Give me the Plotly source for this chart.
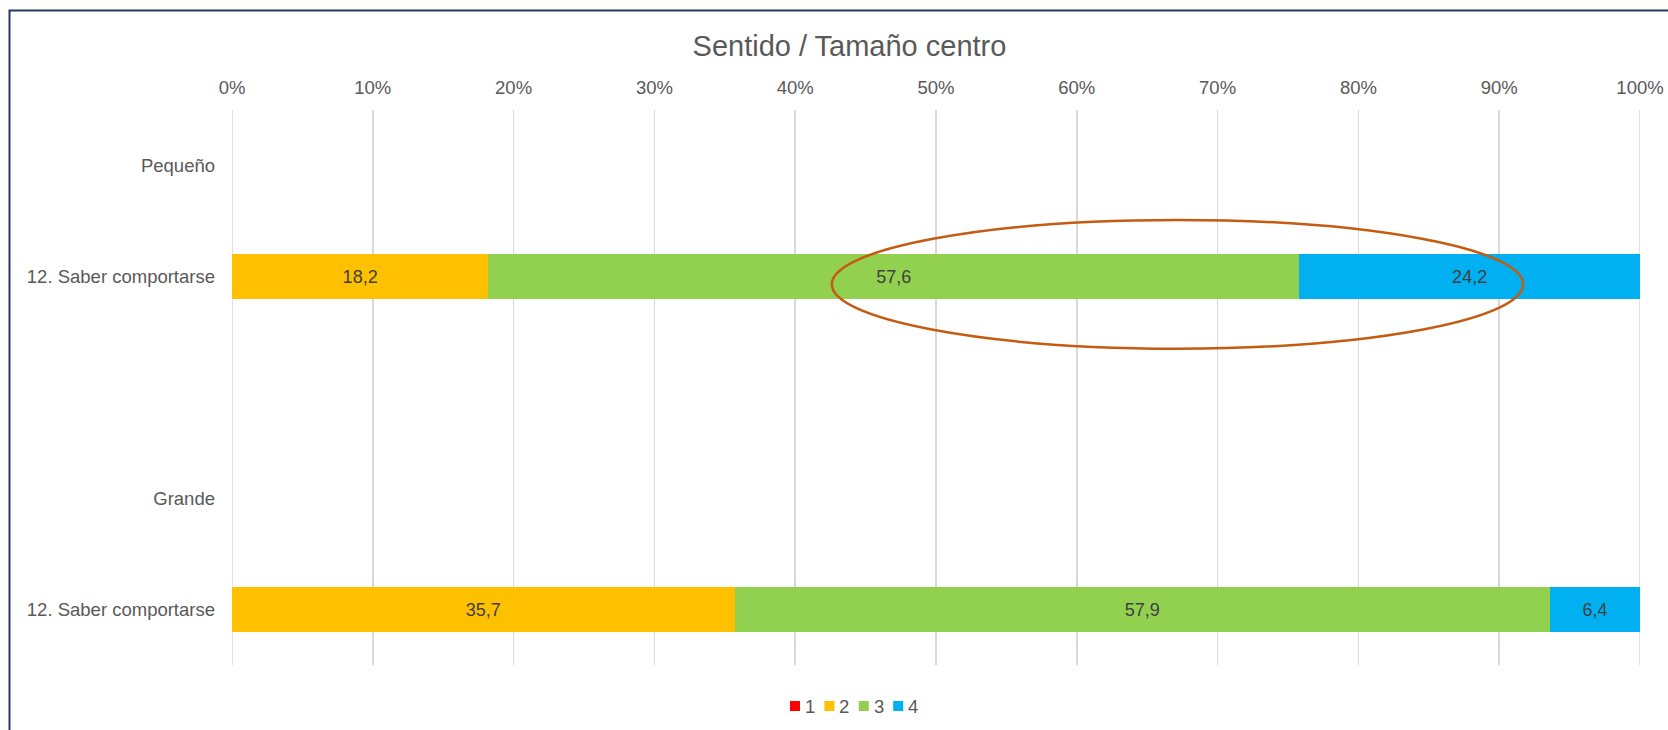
import plotly.graph_objects as go

categories = ["Pequeño", "12. Saber comportarse", "", "Grande", "12. Saber comportarse"]
series_names = ["1", "2", "3", "4"]
s1 = [None, 0.0, None, None, 0.0]
s2 = [None, 18.2, None, None, 35.7]
s3 = [None, 57.6, None, None, 57.9]
s4 = [None, 24.2, None, None, 6.4]
colors = ["#FF0000", "#FFC000", "#92D050", "#00B0F0"]
x_ticks = [0, 10, 20, 30, 40, 50, 60, 70, 80, 90, 100]
x_ticktext = [f"{v}%" for v in x_ticks]

ypos = list(range(len(categories)))
FONT = "Liberation Sans, Arial, sans-serif"
GRID = "#D9D9D9"

# plot-area geometry in pixels (for paper conversions of decorations)
L, R, T, B, W, H = 232, 1640, 110, 665, 1668, 730
def px(xp):
    return (xp - L) / (R - L)
def py(yp):
    return (B - yp) / (B - T)

fig = go.Figure()
for name, vals, col in zip(series_names, [s1, s2, s3, s4], colors):
    texts = [None if (v is None or v == 0) else v for v in vals]
    fig.add_trace(go.Bar(
        y=ypos, x=vals, name=name, orientation="h",
        marker=dict(color=col, line=dict(width=0)),
        width=0.4,
        text=texts, texttemplate="%{text:.1f}",
        textposition="inside", insidetextanchor="middle",
        textfont=dict(color="#404040", size=18, family=FONT),
        constraintext="none",
        hoverinfo="skip", showlegend=False,
    ))

fig.update_layout(
    barmode="stack",
    width=W, height=H,
    separators=",.",
    paper_bgcolor="white", plot_bgcolor="white",
    margin=dict(l=L, r=W - R, t=T, b=H - B, autoexpand=False),
    font=dict(family=FONT, color="#595959", size=18.5),
    title=dict(text="Sentido / Tamaño centro", x=px(849.5), xref="paper", xanchor="center",
               y=1 - 46 / H, yref="container", yanchor="middle",
               font=dict(size=29, color="#595959", family=FONT)),
    showlegend=False,
    xaxis=dict(side="top", range=[0, 100], tickvals=x_ticks, ticktext=x_ticktext,
               showgrid=True, gridcolor=GRID, gridwidth=1.5, zeroline=False,
               showline=False, ticks="", ticklabelstandoff=11,
               tickfont=dict(size=18.5, color="#595959"), fixedrange=True),
    yaxis=dict(tickvals=ypos, ticktext=categories, range=[len(categories) - 0.5, -0.5],
               showgrid=False, zeroline=False, showline=False, ticks="",
               ticklabelstandoff=16,
               tickfont=dict(size=18.5, color="#595959"), fixedrange=True),
)

# edge gridlines (0% and 100%) that plotly clips at the plot borders
for xv in (x_ticks[0], x_ticks[-1]):
    fig.add_shape(type="line", xref="x", yref="paper", x0=xv, x1=xv, y0=0, y1=1,
                  line=dict(color=GRID, width=1.5), layer="below")

# chart-area border (extends past the right/bottom of the captured window)
fig.add_shape(type="rect", xref="paper", yref="paper",
              x0=px(9.5), x1=px(W + 20), y0=py(H + 20), y1=py(10.5),
              line=dict(color="#1F3864", width=2), fillcolor="rgba(0,0,0,0)", layer="below")

# highlight ellipse
fig.add_shape(type="circle", xref="x", yref="y",
              x0=42.6, x1=91.7, y0=0.49, y1=1.65,
              line=dict(color="#C55A11", width=2.5), fillcolor="rgba(0,0,0,0)")

# legend (compact, Excel-like)
for i, (name, col) in enumerate(zip(series_names, colors)):
    x0 = 790 + 34.4 * i
    fig.add_shape(type="rect", xref="paper", yref="paper",
                  x0=px(x0), x1=px(x0 + 10), y0=py(711), y1=py(701),
                  line=dict(width=0), fillcolor=col)
    fig.add_annotation(xref="paper", yref="paper", x=px(x0 + 13), y=py(706),
                       xanchor="left", yanchor="middle", showarrow=False, text=name,
                       font=dict(size=18.5, color="#595959", family=FONT))

fig.write_html("out.html",
               config={"displayModeBar": False, "staticPlot": True},
               post_script="document.body.style.margin='0';document.body.style.overflow='hidden';")
